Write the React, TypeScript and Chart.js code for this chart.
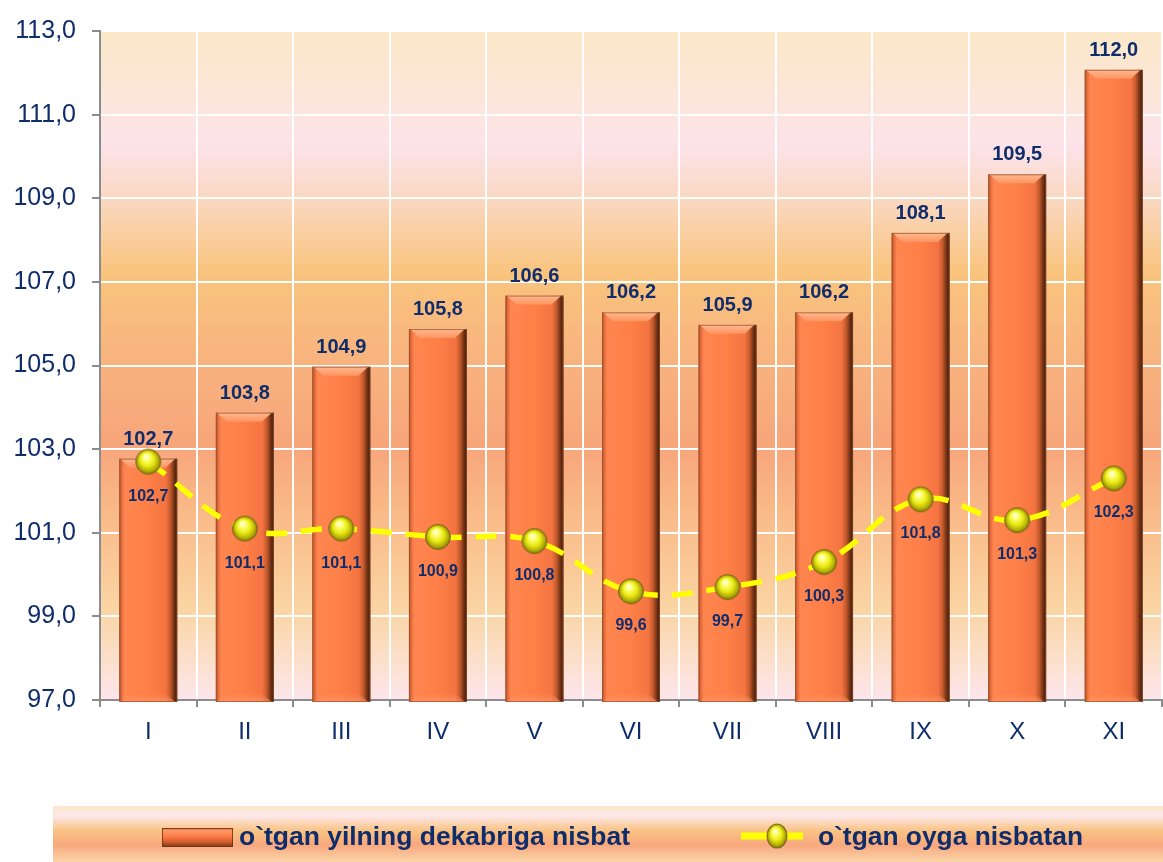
import React, { useEffect, useRef } from 'react';
import { Chart, registerables } from 'chart.js';

Chart.register(...registerables);

const categories = ['I', 'II', 'III', 'IV', 'V', 'VI', 'VII', 'VIII', 'IX', 'X', 'XI'];
const barValues = [102.7, 103.8, 104.9, 105.8, 106.6, 106.2, 105.9, 106.2, 108.1, 109.5, 112.0];
const lineValues = [102.7, 101.1, 101.1, 100.9, 100.8, 99.6, 99.7, 100.3, 101.8, 101.3, 102.3];
const barLabel = 'o`tgan yilning dekabriga nisbat';
const lineLabel = 'o`tgan oyga nisbatan';
const yMin = 97;
const yMax = 113;
const yStep = 2;

const NAVY = '#0F2C6B';
const FONT = '"Liberation Sans", Arial, Helvetica, sans-serif';
const fmt = (v: number) => v.toFixed(1).replace('.', ',');

function drawSphere(ctx: CanvasRenderingContext2D, cx: number, cy: number, rx: number, ry: number) {
  ctx.save();
  ctx.translate(cx, cy);
  ctx.scale(1, ry / rx);
  const r = rx;
  const g = ctx.createRadialGradient(-0.2 * r, -0.45 * r, 0.05 * r, 0, 0, r);
  g.addColorStop(0, '#FFFFE8');
  g.addColorStop(0.22, '#FFFF78');
  g.addColorStop(0.55, '#EAEA12');
  g.addColorStop(0.85, '#B0AA08');
  g.addColorStop(1, '#77700A');
  ctx.beginPath();
  ctx.arc(0, 0, r, 0, Math.PI * 2);
  ctx.fillStyle = g;
  ctx.fill();
  ctx.lineWidth = 1;
  ctx.strokeStyle = 'rgba(125,100,30,0.85)';
  ctx.stroke();
  ctx.restore();
}

function makePointImage(): HTMLCanvasElement {
  const c = document.createElement('canvas');
  c.width = 28;
  c.height = 28;
  const ctx = c.getContext('2d')!;
  drawSphere(ctx, 14, 14, 12.5, 12.5);
  return c;
}

const bgPlugin = {
  id: 'bgPlugin',
  beforeDraw(chart: any) {
    const { ctx, chartArea } = chart;
    const { left, top, right, bottom } = chartArea;
    const g = ctx.createLinearGradient(0, top, 0, bottom);
    g.addColorStop(0, '#FAE8C8');
    g.addColorStop(0.1, '#FCE6DA');
    g.addColorStop(0.17, '#FCE3EA');
    g.addColorStop(0.25, '#FAD8C2');
    g.addColorStop(0.36, '#F9C47E');
    g.addColorStop(0.5, '#F8B27E');
    g.addColorStop(0.62, '#F7A57A');
    g.addColorStop(0.72, '#F9BA88');
    g.addColorStop(0.86, '#FAD4A2');
    g.addColorStop(0.93, '#FBDEC6');
    g.addColorStop(1, '#FDE6EC');
    ctx.save();
    ctx.fillStyle = g;
    ctx.fillRect(left, top, right - left, bottom - top);
    ctx.restore();
  },
};

const barShade = {
  id: 'barShade',
  afterDatasetDraw(chart: any, args: any) {
    if (args.index !== 0) return;
    const ctx: CanvasRenderingContext2D = chart.ctx;
    const area = chart.chartArea;
    ctx.save();
    args.meta.data.forEach((el: any) => {
      const { x, y, base, width } = el.getProps(['x', 'y', 'base', 'width'], true);
      const x0 = x - width / 2;
      const x1 = x + width / 2;
      const top = y - 3;
      const bot = Math.min(base, area.bottom) + 2;
      const h = bot - top;
      const g = ctx.createLinearGradient(x0, 0, x1, 0);
      g.addColorStop(0, '#B4542C');
      g.addColorStop(0.04, '#E46A3A');
      g.addColorStop(0.09, '#FF8650');
      g.addColorStop(0.5, '#FF7F47');
      g.addColorStop(0.8, '#F47442');
      g.addColorStop(0.88, '#C45A2C');
      g.addColorStop(0.95, '#6E3014');
      g.addColorStop(1, '#3A1A08');
      ctx.fillStyle = g;
      ctx.fillRect(x0, top, width, h);
      // top bevel
      const b = 9;
      const gt = ctx.createLinearGradient(0, top, 0, top + b);
      gt.addColorStop(0, '#FFB890');
      gt.addColorStop(1, '#FF9560');
      ctx.beginPath();
      ctx.moveTo(x0 + 1, top);
      ctx.lineTo(x1 - 2, top);
      ctx.lineTo(x1 - b - 3, top + b);
      ctx.lineTo(x0 + b + 2, top + b);
      ctx.closePath();
      ctx.fillStyle = gt;
      ctx.fill();
      // bottom bevel
      const gb = ctx.createLinearGradient(0, bot - b, 0, bot);
      gb.addColorStop(0, 'rgba(255,140,90,0)');
      gb.addColorStop(1, 'rgba(255,150,100,0.7)');
      ctx.beginPath();
      ctx.moveTo(x0 + b + 2, bot - b);
      ctx.lineTo(x1 - b - 3, bot - b);
      ctx.lineTo(x1 - 2, bot);
      ctx.lineTo(x0 + 1, bot);
      ctx.closePath();
      ctx.fillStyle = gb;
      ctx.fill();
      ctx.strokeStyle = 'rgba(140,80,50,0.7)';
      ctx.lineWidth = 1;
      ctx.strokeRect(x0 + 0.5, top + 0.5, width - 1, h - 1);
    });
    ctx.restore();
  },
};

const labelPlugin = {
  id: 'labelPlugin',
  afterDatasetsDraw(chart: any) {
    const ctx: CanvasRenderingContext2D = chart.ctx;
    ctx.save();
    ctx.fillStyle = NAVY;
    ctx.textAlign = 'center';
    ctx.textBaseline = 'alphabetic';
    const barMeta = chart.getDatasetMeta(0);
    ctx.font = `bold 20px ${FONT}`;
    barMeta.data.forEach((el: any, i: number) => {
      ctx.fillText(fmt(barValues[i]), el.x, el.y - 17);
    });
    const lineMeta = chart.getDatasetMeta(1);
    ctx.font = `bold 16px ${FONT}`;
    lineMeta.data.forEach((el: any, i: number) => {
      ctx.fillText(fmt(lineValues[i]), el.x, el.y + 39);
    });
    ctx.restore();
  },
};

function fitText(ctx: CanvasRenderingContext2D, text: string, x: number, baseline: number, width: number) {
  ctx.font = `bold 25px ${FONT}`;
  const w = ctx.measureText(text).width;
  ctx.save();
  ctx.translate(x, baseline);
  ctx.scale(width / w, 1);
  ctx.textAlign = 'left';
  ctx.textBaseline = 'alphabetic';
  ctx.fillText(text, 0, 0);
  ctx.restore();
}

const legendPlugin = {
  id: 'legendPlugin',
  afterDraw(chart: any) {
    const ctx: CanvasRenderingContext2D = chart.ctx;
    const bandTop = 806;
    const bandH = 60;
    ctx.save();
    const g = ctx.createLinearGradient(0, bandTop, 0, bandTop + 56);
    g.addColorStop(0, '#FBE8CC');
    g.addColorStop(0.18, '#FDE7EA');
    g.addColorStop(0.33, '#FBD2AC');
    g.addColorStop(0.45, '#F9C282');
    g.addColorStop(0.7, '#F8A87E');
    g.addColorStop(0.86, '#FAC096');
    g.addColorStop(1, '#FBD4A8');
    ctx.fillStyle = g;
    ctx.fillRect(53, bandTop, chart.width - 53, bandH);

    // bar swatch
    const sx = 162, sy = 828, sw = 71, sh = 19;
    const gs = ctx.createLinearGradient(0, sy, 0, sy + sh);
    gs.addColorStop(0, '#D86838');
    gs.addColorStop(0.15, '#FF9A68');
    gs.addColorStop(0.45, '#FF7A45');
    gs.addColorStop(0.72, '#D25E30');
    gs.addColorStop(1, '#7A3418');
    ctx.fillStyle = gs;
    ctx.fillRect(sx, sy, sw, sh);
    ctx.strokeStyle = 'rgba(110,50,20,0.85)';
    ctx.lineWidth = 1;
    ctx.strokeRect(sx + 0.5, sy + 0.5, sw - 1, sh - 1);

    ctx.fillStyle = NAVY;
    const ds = chart.data.datasets;
    fitText(ctx, ds[0].label, 239, 845, 391);

    // line swatch
    ctx.strokeStyle = '#FFFF00';
    ctx.lineWidth = 7;
    ctx.lineCap = 'butt';
    ctx.beginPath();
    ctx.moveTo(741, 836);
    ctx.lineTo(803, 836);
    ctx.stroke();
    drawSphere(ctx, 777, 836, 10, 12);

    ctx.fillStyle = NAVY;
    fitText(ctx, ds[1].label, 818, 845, 265);
    ctx.restore();
  },
};

export default function App() {
  const canvasRef = useRef<HTMLCanvasElement | null>(null);

  useEffect(() => {
    document.body.style.overflow = 'hidden';
    const canvas = canvasRef.current;
    if (!canvas) return;
    const pointImg = makePointImage();
    const chart = new Chart(canvas, {
      type: 'bar',
      data: {
        labels: categories,
        datasets: [
          {
            type: 'bar',
            label: barLabel,
            data: barValues,
            backgroundColor: '#FF7F47',
            barPercentage: 0.6,
            categoryPercentage: 1,
            order: 1,
          },
          {
            type: 'line',
            label: lineLabel,
            data: lineValues,
            borderColor: '#FFFF00',
            borderWidth: 5.5,
            borderDash: [21, 14],
            tension: 0.4,
            fill: false,
            pointStyle: pointImg as any,
            pointRadius: 12.5,
            order: 0,
          },
        ],
      } as any,
      options: {
        animation: false,
        responsive: false,
        maintainAspectRatio: false,
        layout: { padding: { left: 0, right: 7.5, top: 28, bottom: 0 } },
        plugins: {
          legend: { display: false },
          tooltip: { enabled: false },
        },
        scales: {
          x: {
            offset: true,
            afterFit: (scale: any) => {
              scale.height = 162;
            },
            grid: {
              offset: true,
              color: (c: any) => (c.index === 0 ? 'rgba(0,0,0,0)' : '#FFFFFF'),
              lineWidth: 2,
              tickColor: '#8C8C8C',
              tickLength: 7,
              tickWidth: 2,
            },
            border: { color: '#8C8C8C', width: 2 },
            ticks: {
              color: NAVY,
              font: { family: FONT, size: 24 },
              padding: 11,
              maxRotation: 0,
              autoSkip: false,
            },
          },
          y: {
            min: yMin,
            max: yMax,
            afterFit: (scale: any) => {
              scale.width = 100;
            },
            grid: {
              color: (c: any) => (c.index === 0 ? 'rgba(0,0,0,0)' : '#FFFFFF'),
              lineWidth: 2,
              tickColor: '#8C8C8C',
              tickLength: 8,
              tickWidth: 2,
            },
            border: { color: '#8C8C8C', width: 2 },
            ticks: {
              stepSize: yStep,
              color: NAVY,
              font: { family: FONT, size: 25 },
              padding: 16,
              callback: (v: any) => fmt(Number(v)),
            },
          },
        },
      } as any,
      plugins: [bgPlugin, barShade, labelPlugin, legendPlugin],
    });
    return () => {
      chart.destroy();
    };
  }, []);

  return (
    <div
      style={{
        position: 'absolute',
        left: 0,
        top: 0,
        width: 1163,
        height: 862,
        overflow: 'hidden',
        background: '#FFFFFF',
      }}
    >
      <canvas ref={canvasRef} width={1180} height={862} style={{ width: 1180, height: 862, display: 'block' }} />
    </div>
  );
}
